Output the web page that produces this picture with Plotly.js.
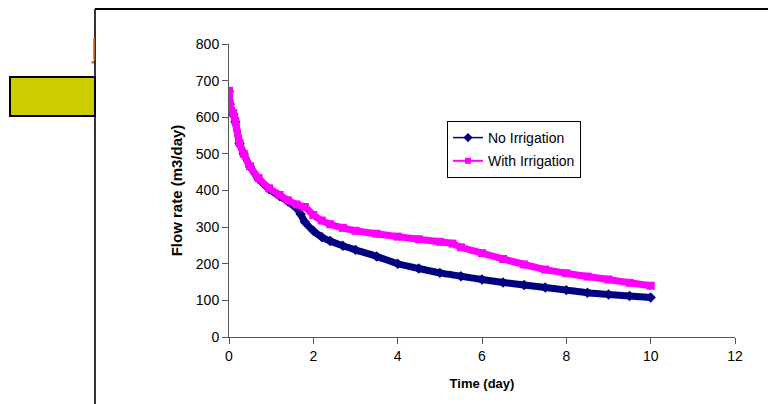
<!DOCTYPE html>
<html>
<head>
<meta charset="utf-8">
<script src="https://cdn.plot.ly/plotly-3.0.1.min.js"></script>
<style>html,body{margin:0;padding:0;background:#fff;}#chart{width:768px;height:404px;}</style>
</head>
<body>
<div id="chart"></div>
<script>
// Time (day)
const timeNo = [0, 0.02, 0.1, 0.15, 0.25, 0.35, 0.5, 0.7, 0.95, 1.2, 1.4, 1.5, 1.6, 1.7, 1.8, 2.0, 2.2, 2.4, 2.7, 3.0, 3.5, 4.0, 4.5, 5.0, 5.5, 6.0, 6.5, 7.0, 7.5, 8.0, 8.5, 9.0, 9.5, 10.0];
const flowNo = [670, 636, 608, 588, 528, 500, 465, 432, 404, 385, 370, 362, 352, 335, 314, 290, 273, 262, 249, 238, 220, 200, 187, 175, 166, 157, 149, 142, 135, 128, 121, 116, 112, 108];
const timeWith = [0, 0.02, 0.1, 0.15, 0.25, 0.35, 0.5, 0.7, 0.95, 1.2, 1.4, 1.6, 1.8, 2.0, 2.2, 2.4, 2.7, 3.0, 3.5, 4.0, 4.5, 5.0, 5.3, 5.5, 6.0, 6.5, 7.0, 7.5, 8.0, 8.5, 9.0, 9.5, 10.0];
const flowWith = [672, 638, 611, 590, 530, 500, 466, 434, 406, 388, 373, 362, 355, 333, 318, 308, 298, 290, 282, 274, 267, 260, 255, 245, 229, 213, 198, 184, 174, 165, 157, 148, 140];
const seriesNames = ["No Irrigation", "With Irrigation"];
const xTicks = [0, 2, 4, 6, 8, 10, 12];
const yTicks = [0, 100, 200, 300, 400, 500, 600, 700, 800];

const W = 768, H = 404, L = 229, R = 735, T = 44, B = 337;
const px = x => (x - L) / (R - L);
const py = y => (B - y) / (B - T);

const navy = '#000080', pink = '#ff00ff';
const traces = [
  {x: timeNo, y: flowNo, mode: 'lines+markers', showlegend: false, hoverinfo: 'skip',
   line: {color: navy, width: 7, shape: 'spline', smoothing: 0.6}, marker: {symbol: 'diamond', size: 8, color: navy}},
  {x: timeWith, y: flowWith, mode: 'lines+markers', showlegend: false, hoverinfo: 'skip',
   line: {color: pink, width: 7, shape: 'spline', smoothing: 0.6}, marker: {symbol: 'square', size: 8, color: pink}},
  {x: [null], y: [null], name: seriesNames[0], legendgroup: 'a', mode: 'lines+markers',
   line: {color: navy, width: 1.5}, marker: {symbol: 'diamond', size: 7, color: navy}},
  {x: [null], y: [null], name: seriesNames[1], legendgroup: 'b', mode: 'lines+markers',
   line: {color: pink, width: 2}, marker: {symbol: 'square', size: 6, color: pink}}
];

const shapes = [
  // slide frame
  {type: 'line', xref: 'paper', yref: 'paper', x0: px(95), x1: px(768), y0: py(9), y1: py(9), line: {color: '#000', width: 2}},
  {type: 'line', xref: 'paper', yref: 'paper', x0: px(95), x1: px(95), y0: py(9), y1: py(404), line: {color: '#333', width: 2}},
  // yellow box
  {type: 'rect', xref: 'paper', yref: 'paper', x0: px(10), x1: px(95), y0: py(77), y1: py(116), fillcolor: '#cccc00', line: {color: '#000', width: 2}},
  // orange mark
  {type: 'line', xref: 'paper', yref: 'paper', x0: px(94), x1: px(94), y0: py(38), y1: py(60), line: {color: '#e06010', width: 1.5}},
  {type: 'rect', xref: 'paper', yref: 'paper', x0: px(91.5), x1: px(94), y0: py(61), y1: py(63.5), fillcolor: '#f06000', line: {width: 0}}
];

const layout = {
  width: W, height: H,
  margin: {l: L, r: W - R, t: T, b: H - B, pad: 0},
  paper_bgcolor: '#fff', plot_bgcolor: '#fff',
  font: {family: 'Liberation Sans, Arial, sans-serif', size: 14, color: '#000'},
  showlegend: true,
  legend: {x: px(447), y: py(121), xanchor: 'left', yanchor: 'top', bgcolor: '#fff', bordercolor: '#000', borderwidth: 1,
           font: {size: 14, color: '#000'}, tracegroupgap: 2, itemwidth: 30, traceorder: 'grouped'},
  xaxis: {range: [0, 12], tickvals: xTicks, ticktext: xTicks.map(String), ticks: 'outside', ticklen: 6, tickcolor: '#555',
          tickfont: {size: 14}, showline: true, linecolor: '#555', linewidth: 1, showgrid: false, zeroline: false,
          title: {text: '<b>Time (day)</b>', font: {size: 13}, standoff: 16}, fixedrange: true},
  yaxis: {range: [0, 800], tickvals: yTicks, ticktext: yTicks.map(String), ticks: 'outside', ticklen: 6, tickcolor: '#555',
          tickfont: {size: 14}, showline: true, linecolor: '#555', linewidth: 1, showgrid: false, zeroline: false,
          title: {text: '<b>Flow rate (m3/day)</b>', font: {size: 15}, standoff: 9}, fixedrange: true},
  shapes: shapes
};

Plotly.newPlot('chart', traces, layout, {displayModeBar: false, staticPlot: true});
</script>
</body>
</html>
